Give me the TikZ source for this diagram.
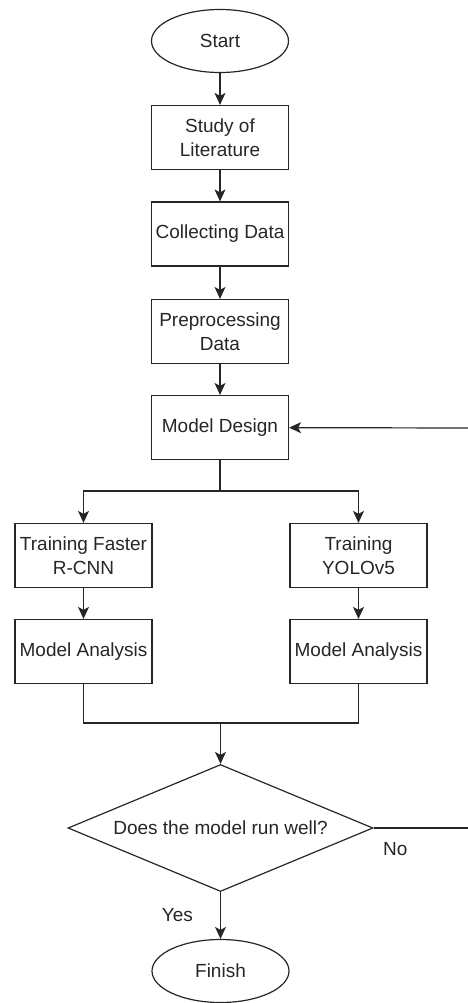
\documentclass[tikz,border=0pt]{standalone}
\usepackage{fontspec}
\setmainfont{Liberation Sans}
\usetikzlibrary{shapes.geometric,arrows.meta}

\begin{document}
\begin{tikzpicture}
  [x=1pt,y=-1pt,line width=1.2pt,draw=black!85,
   >={Stealth[length=12pt,width=11pt,inset=3pt]},
   every node/.style={text=black!85,font=\fontsize{19}{24}\selectfont,inner sep=0pt,align=center},
   term/.style={ellipse,draw,minimum width=137pt,minimum height=63pt},
   box/.style={rectangle,draw,minimum width=137pt,minimum height=64pt},
   decision/.style={diamond,draw,aspect=2.4,minimum width=305pt,minimum height=127pt}]

  \useasboundingbox (0,0) rectangle (468,1003);

  %%%%%%%%%%%%%%%%%%%%%% MAIN COLUMN %%%%%%%%%%%%%%%%%%%%%%

  \node[term] (start) at (220,41)    {Start};
  \node[box] (study) at (220,137.5)  {Study of\\Literature};
  \node[box] (collect) at (220,234)  {Collecting Data};
  \node[box] (prep) at (220,331.5)   {Preprocessing\\Data};
  \node[box] (design) at (220,427.5) {Model Design};

  %%%%%%%%%%%%%%%%%%%%%% TWO BRANCHES %%%%%%%%%%%%%%%%%%%%%%

  \node[box] (train_frcnn) at (83.5,555.5) {Training Faster\\R-CNN};
  \node[box] (train_yolo) at (358.5,555.5) {Training\\YOLOv5};
  \node[box] (ana_frcnn) at (83.5,651.5)   {Model Analysis};
  \node[box] (ana_yolo) at (358.5,651.5)   {Model Analysis};

  %%%%%%%%%%%%%%%%%%%%%% DECISION %%%%%%%%%%%%%%%%%%%%%%

  \node[decision] (check) at (220.5,828) {Does the model run well?};
  \node[term] (finish) at (220.5,971)    {Finish};

  \coordinate (split) at (220,491);
  \coordinate (join) at (220.5,723);
  \coordinate (no_end) at (468,828);
  \coordinate (loop_end) at (468,428);

  \foreach \fromstep/\tostep in {start/study,study/collect,collect/prep,prep/design,train_frcnn/ana_frcnn,train_yolo/ana_yolo}
    \draw[->] (\fromstep) -- (\tostep);

  \draw (design) -- (split);
  \foreach \tobranch in {train_frcnn,train_yolo}
    \draw[->] (split) -| (\tobranch);

  \foreach \frombranch in {ana_frcnn,ana_yolo}
    \draw (\frombranch) |- (join);
  \draw[->] (join) -- (check);

  \draw[->] (check) -- (finish) node [midway,left=27pt] (yes_lbl) {Yes};
  \draw (check.east) -- (no_end) node [pos=0.23,below=14pt] (no_lbl) {No};
  \draw[->] (loop_end) -- (design);

\end{tikzpicture}
\end{document}
